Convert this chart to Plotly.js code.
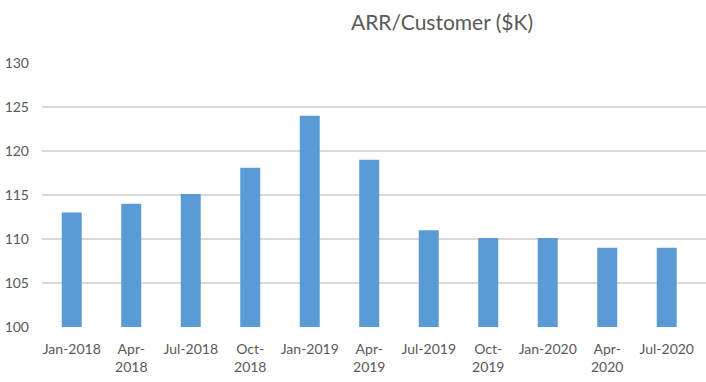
<!DOCTYPE html>
<html>
<head>
<meta charset="utf-8">
<script src="https://cdn.plot.ly/plotly-3.0.1.min.js"></script>
<style>html,body{margin:0;padding:0;background:#fff;}#chart{width:706px;height:382px;}</style>
</head>
<body>
<div id="chart"></div>
<script>
const categories = ["Jan-2018","Apr-<br>2018","Jul-2018","Oct-<br>2018","Jan-2019","Apr-<br>2019","Jul-2019","Oct-<br>2019","Jan-2020","Apr-<br>2020","Jul-2020"];
const arrPerCustomer = [113, 114, 115.1, 118.1, 124, 119, 111, 110.1, 110.1, 109, 109];
const yTicks = [100, 105, 110, 115, 120, 125, 130];

const font = "Lato, Carlito, 'Open Sans', sans-serif";
Plotly.newPlot('chart', [{
  type: 'bar',
  x: categories,
  y: arrPerCustomer,
  marker: {color: '#5b9bd5'},
  hoverinfo: 'x+y'
}], {
  width: 706, height: 382,
  margin: {l: 42, r: 0, t: 63, b: 55},
  paper_bgcolor: '#fff', plot_bgcolor: '#fff',
  bargap: 0.664,
  showlegend: false,
  title: {text: 'ARR/Customer ($K)', x: 442/706, xanchor: 'center', y: 0.94, yanchor: 'middle',
          font: {family: font, size: 21, color: '#595959'}},
  xaxis: {
    type: 'category',
    range: [-0.5, 10.66],
    showgrid: false, zeroline: false, showline: false,
    ticks: '', tickangle: 0,
    ticklabelstandoff: 12,
    tickfont: {family: font, size: 14, color: '#595959'}
  },
  yaxis: {
    range: [100, 130],
    tickvals: yTicks,
    ticktext: yTicks.map(String),
    showgrid: true, gridcolor: '#d9d9d9', gridwidth: 1.5,
    zeroline: false, showline: false, ticks: '',
    ticklabelstandoff: 12,
    tickfont: {family: font, size: 14, color: '#595959'}
  }
}, {displayModeBar: false, staticPlot: true});
</script>
</body>
</html>
